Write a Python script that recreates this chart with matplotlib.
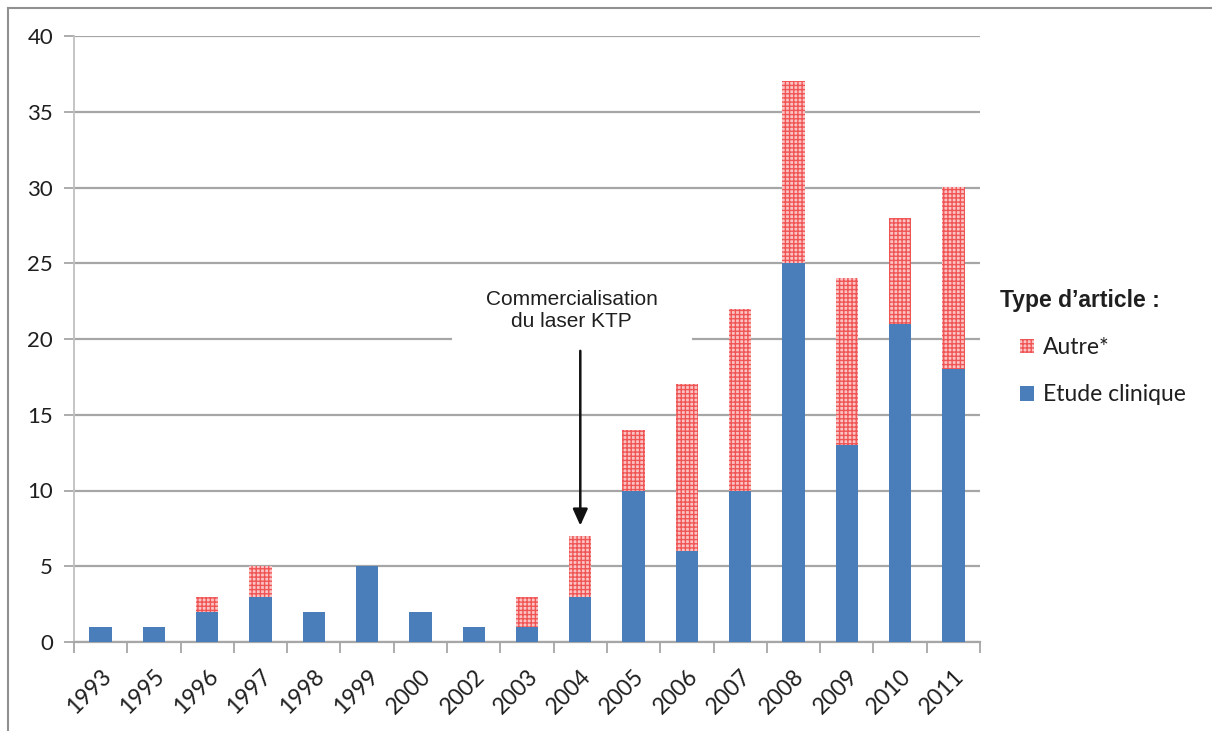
import numpy as np
import matplotlib
matplotlib.use("Agg")
import matplotlib.pyplot as plt
from matplotlib.lines import Line2D
from matplotlib.patches import Patch, Rectangle

# data
years = ["1993", "1995", "1996", "1997", "1998", "1999", "2000", "2002", "2003",
         "2004", "2005", "2006", "2007", "2008", "2009", "2010", "2011"]
etude = [1, 1, 2, 3, 2, 5, 2, 1, 1, 3, 10, 6, 10, 25, 13, 21, 18]
autre = [0, 0, 1, 2, 0, 0, 0, 0, 2, 4, 4, 11, 12, 12, 11, 7, 12]
yticks = [0, 5, 10, 15, 20, 25, 30, 35, 40]

blue = "#4a7ebb"
red_fill = "#fbc4c4"
red_hatch = "#f05555"
grid_c = "#a6a6a6"
txt_c = "#1f1f1f"

plt.rcParams["hatch.linewidth"] = 1.0
plt.rcParams["hatch.color"] = red_hatch

fig = plt.figure(figsize=(12.12, 7.31), dpi=100)
ax = fig.add_axes([74 / 1212, 1 - 642 / 731, (980 - 74) / 1212, (642 - 36) / 731])

x = np.arange(len(years))
w = 0.42
ax.bar(x, etude, width=w, color=blue, linewidth=0, zorder=3)
ax.bar(x, autre, width=w, bottom=etude, color=red_fill, edgecolor=red_hatch,
       hatch="++++", linewidth=0, zorder=3)

ax.set_xlim(-0.5, len(years) - 0.5)
ax.set_ylim(0, 40)
ax.set_yticks(yticks)
ax.set_yticklabels([str(v) for v in yticks], fontsize=16, color=txt_c, family="Lato")
ax.yaxis.grid(True, color=grid_c, linewidth=1.6, zorder=0)
ax.set_axisbelow(True)

ax.set_xticks(x)
ax.set_xticklabels(years, rotation=45, ha="right", va="top", rotation_mode="anchor",
                   fontsize=16.5, color=txt_c, family="Lato")
ax.set_xticks(np.arange(-0.5, len(years)), minor=True)
ax.tick_params(axis="x", which="major", length=0, pad=17)
ax.tick_params(axis="x", which="minor", length=8, width=1.3, color=grid_c)
ax.tick_params(axis="y", length=7, width=1.3, color=grid_c, pad=8)

for s in ["top", "right"]:
    ax.spines[s].set_visible(False)
ax.spines["left"].set_color("#c0c0c0")
ax.spines["left"].set_linewidth(1.3)
ax.spines["bottom"].set_color(grid_c)
ax.spines["bottom"].set_linewidth(1.6)

# white box of the text label, hiding part of the 20 gridline
ax.add_patch(Rectangle((6.6, 19.5), 4.5, 1.0, facecolor="white", edgecolor="none",
                       zorder=1))

# annotation with arrow
ax.annotate("", xy=(9, 7.5), xytext=(9, 19.4),
            arrowprops=dict(arrowstyle="-|>,head_length=1.0,head_width=0.45",
                            color="#111111", lw=1.8), zorder=6)
ax.text(8.84, 21.9, "Commercialisation\ndu laser KTP", ha="center", va="center",
        fontsize=15, family="Liberation Sans", color=txt_c, linespacing=1.2,
        zorder=5)

# legend
fig.text(1000 / 1212, 1 - 300 / 731, "Type d\u2019article :", fontsize=16.5,
         fontweight="bold", family="Liberation Sans", color=txt_c,
         ha="left", va="center")
handles = [Patch(facecolor=red_fill, edgecolor=red_hatch, hatch="++++", linewidth=0),
           Patch(facecolor=blue, linewidth=0)]
leg = fig.legend(handles, ["Autre*", "Etude clinique"], loc="upper left",
                 bbox_to_anchor=(1020 / 1212, 1 - 337 / 731), frameon=False,
                 handlelength=0.6, handleheight=0.6, handletextpad=0.4,
                 labelspacing=1.15, borderaxespad=0, borderpad=0,
                 prop=dict(family="Lato", size=16.5))
for t in leg.get_texts():
    t.set_color(txt_c)

# outer frame (top and left edges)
fig.add_artist(Line2D([8 / 1212, 8 / 1212], [0, 1 - 8 / 731], transform=fig.transFigure,
                      color="#909090", linewidth=1.5))
fig.add_artist(Line2D([8 / 1212, 1], [1 - 8 / 731, 1 - 8 / 731], transform=fig.transFigure,
                      color="#909090", linewidth=1.5))

fig.savefig("out.png", dpi=100)
